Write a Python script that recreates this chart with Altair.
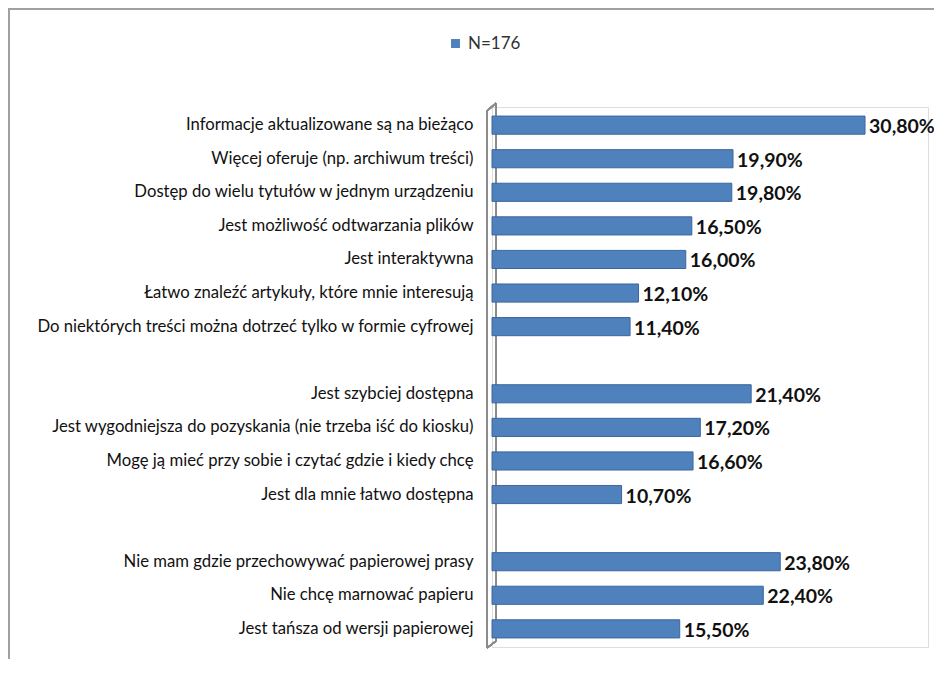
import altair as alt
import pandas as pd

categories = [
    "Informacje aktualizowane są na bieżąco",
    "Więcej oferuje (np. archiwum treści)",
    "Dostęp do wielu tytułów w jednym urządzeniu",
    "Jest możliwość odtwarzania plików",
    "Jest interaktywna",
    "Łatwo znaleźć artykuły, które mnie interesują",
    "Do niektórych treści można dotrzeć tylko w formie cyfrowej",
    "gap1",
    "Jest szybciej dostępna",
    "Jest wygodniejsza do pozyskania (nie trzeba iść do kiosku)",
    "Mogę ją mieć przy sobie i czytać gdzie i kiedy chcę",
    "Jest dla mnie łatwo dostępna",
    "gap2",
    "Nie mam gdzie przechowywać papierowej prasy",
    "Nie chcę marnować papieru",
    "Jest tańsza od wersji papierowej",
]
values = [30.8, 19.9, 19.8, 16.5, 16.0, 12.1, 11.4, None,
          21.4, 17.2, 16.6, 10.7, None,
          23.8, 22.4, 15.5]
series_name = "N=176"

rows = []
for c, v in zip(categories, values):
    if v is None:
        continue
    rows.append({"cat": c, "val": v, "series": series_name,
                 "label": f"{v:.2f}".replace(".", ",") + "%"})
df = pd.DataFrame(rows)

W, H = 436, 540
LABEL_FONT = "Lato, Noto Sans, DejaVu Sans"

y_enc = alt.Y("cat:N", sort=categories,
              scale=alt.Scale(domain=categories, paddingInner=0.46, paddingOuter=0.27),
              axis=alt.Axis(title=None, ticks=False, domain=False, labelPadding=19,
                            labelFontSize=16.7, labelFont=LABEL_FONT, labelColor="#111",
                            labelLimit=480,
                            labelExpr="indexof(datum.value, 'gap') == 0 ? '' : datum.value"))
x_enc = alt.X("val:Q", scale=alt.Scale(domain=[0, 36]), axis=None)

base = alt.Chart(df)

bars = base.mark_bar(stroke="#3A679E", strokeWidth=1).encode(
    y=y_enc, x=x_enc,
    color=alt.Color("series:N", scale=alt.Scale(range=["#4F81BD"]),
                    legend=alt.Legend(title=None, orient="none", legendX=-45, legendY=-72,
                                      symbolType="square", symbolSize=80,
                                      symbolStrokeWidth=0,
                                      labelFontSize=17, labelFont=LABEL_FONT,
                                      labelColor="#333")),
)

texts = base.mark_text(align="left", baseline="middle", dx=4, dy=2, fontSize=19.5,
                       fontWeight="bold", font=LABEL_FONT, color="#111").encode(
    y=alt.Y("cat:N", sort=categories), x=x_enc, text="label:N")

# 3D-style wall of the category axis
wall_left = alt.Chart(df).mark_rule(color="#8C8C8C", strokeWidth=1.3).encode(
    x=alt.value(-5), y=alt.value(4), y2=alt.value(H + 1))
wall_right = alt.Chart(df).mark_rule(color="#8C8C8C", strokeWidth=1.3).encode(
    x=alt.value(4), y=alt.value(-4), y2=alt.value(H - 6))
wall_top = alt.Chart(df).mark_rule(color="#8C8C8C", strokeWidth=1.3).encode(
    x=alt.value(-5), x2=alt.value(4), y=alt.value(4), y2=alt.value(-4))
wall_bot = alt.Chart(df).mark_rule(color="#8C8C8C", strokeWidth=1.3).encode(
    x=alt.value(-5), x2=alt.value(4), y=alt.value(H + 1), y2=alt.value(H - 6))

# outer chart frame
frame = alt.Chart(df).mark_rect(fill=None, stroke="#A0A0A0", strokeWidth=2).encode(
    x=alt.value(-483), x2=alt.value(470), y=alt.value(-98), y2=alt.value(H + 80))

chart = alt.layer(frame, wall_left, wall_right, wall_top, wall_bot, bars, texts).properties(
    width=W, height=H,
    autosize=alt.AutoSizeParams(type="none"),
    padding={"left": 484, "top": 99, "right": 6, "bottom": 12},
).configure_view(stroke=None).configure(background="white")

chart.save("out.html", embed_options={"renderer": "svg", "actions": False})
